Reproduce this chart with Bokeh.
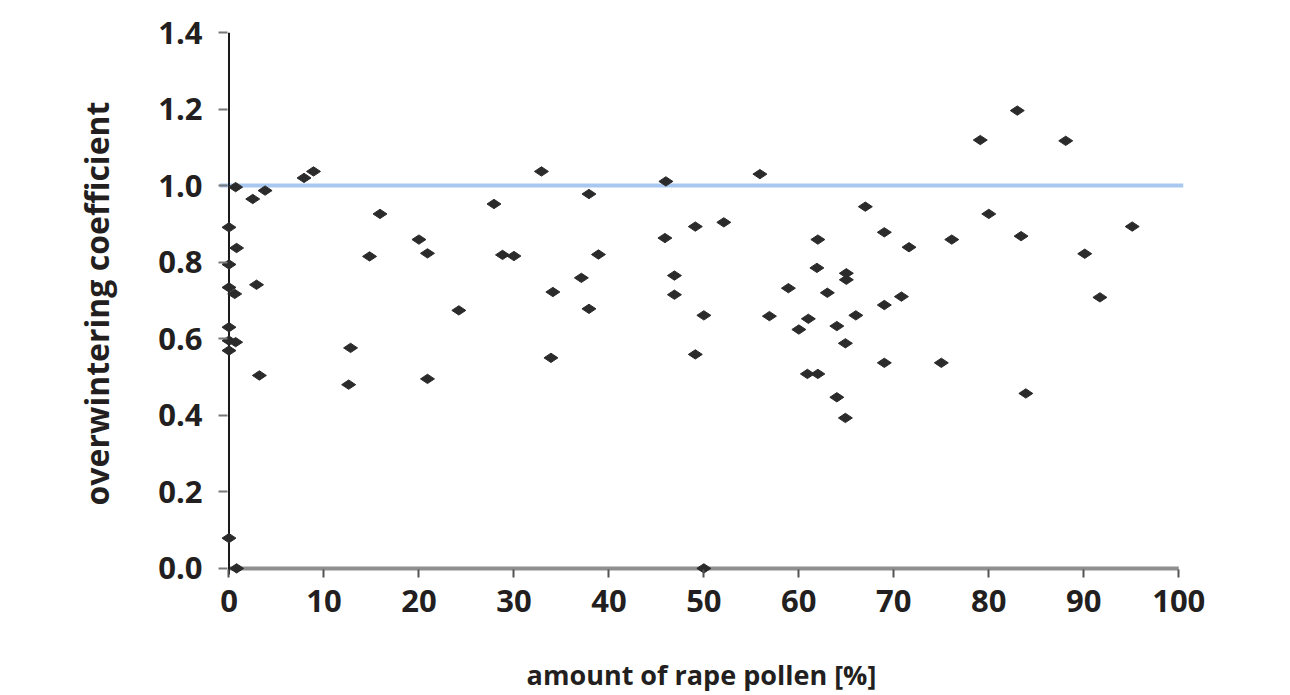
import math
from bokeh.plotting import figure
from bokeh.models import FixedTicker, Range1d, Span
from bokeh.embed import file_html
from bokeh.resources import INLINE

# data: amount of rape pollen [%] vs overwintering coefficient
pollen = [0.7, 2.5, 3.8, 7.9, 8.9, 0.0, 0.8, 0.0, 2.9, 0.0, 0.6, 0.0, 0.0, 0.7,
          0.0, 3.2, 0.0, 0.8, 15.9, 14.8, 20.0, 20.9, 12.8, 12.6, 20.9,
          32.9, 46.0, 27.9, 37.9, 49.1, 52.1, 45.9, 28.8, 30.0, 38.9, 37.1,
          46.9, 46.9, 34.1, 37.9, 24.2, 50.0, 33.9, 49.1,
          55.9, 67.0, 80.0, 69.0, 62.0, 76.1, 71.6, 61.9, 65.0, 65.0, 58.9,
          63.0, 70.8, 69.0, 56.9, 66.0, 61.0, 60.0, 64.0, 64.9, 69.0, 75.0,
          60.9, 62.0, 64.0, 64.9, 83.0, 79.1, 88.1, 83.4, 95.1, 90.1, 91.7,
          83.9, 50.0]
coeff = [0.996, 0.965, 0.987, 1.02, 1.037, 0.891, 0.837, 0.794, 0.741, 0.734, 0.717,
         0.63, 0.595, 0.591, 0.569, 0.504, 0.079, 0.0, 0.926, 0.815, 0.859, 0.823,
         0.576, 0.48, 0.495,
         1.037, 1.011, 0.952, 0.978, 0.893, 0.904, 0.863, 0.819, 0.816, 0.82, 0.759,
         0.765, 0.715, 0.722, 0.678, 0.674, 0.661, 0.55, 0.559,
         1.03, 0.945, 0.926, 0.878, 0.859, 0.859, 0.839, 0.785, 0.771, 0.754, 0.732,
         0.72, 0.71, 0.688, 0.659, 0.661, 0.652, 0.624, 0.633, 0.588, 0.537, 0.537,
         0.508, 0.508, 0.447, 0.393, 1.196, 1.119, 1.117, 0.868, 0.893, 0.822, 0.708,
         0.457, 0.0]

x_ticks = [0, 10, 20, 30, 40, 50, 60, 70, 80, 90, 100]
y_ticks = [0.0, 0.2, 0.4, 0.6, 0.8, 1.0, 1.2, 1.4]
y_tick_labels = {0.0: "0.0", 0.2: "0.2", 0.4: "0.4", 0.6: "0.6", 0.8: "0.8",
                 1.0: "1.0", 1.2: "1.2", 1.4: "1.4"}
reference_level = 1.0

TEXT = "#231f20"
FONT = "Open Sans"

p = figure(width=1282, height=695, output_backend="svg", toolbar_location=None,
           x_range=Range1d(-1, 100.5), y_range=Range1d(-0.016, 1.4),
           min_border_left=219, min_border_right=99, min_border_top=32,
           min_border_bottom=121)
p.outline_line_color = None
p.grid.visible = False
p.background_fill_color = "white"

# reference line at 1.0
p.add_layout(Span(location=reference_level, dimension="width", line_color="#a9c8ef",
                  line_width=4, level="underlay"))

# axis lines at data zero
p.segment(x0=[x_ticks[0]], y0=[0], x1=[x_ticks[-1]], y1=[0], line_color="#8f8f8f", line_width=4)
p.segment(x0=[0], y0=[-0.02], x1=[0], y1=[y_ticks[-1]], line_color="#1a1a1a", line_width=2)

p.scatter(pollen, coeff, marker="diamond", size=14, angle=math.pi / 2,
          fill_color="#2b2b2b", line_color="#2b2b2b", line_width=1)

xa = p.xaxis[0]
xa.ticker = FixedTicker(ticks=x_ticks)
xa.axis_line_color = None
xa.major_tick_line_color = "#555555"
xa.major_tick_line_width = 2
xa.major_tick_in = 5
xa.major_tick_out = 3
xa.minor_tick_line_color = None
xa.major_label_text_font = FONT
xa.major_label_text_font_style = "bold"
xa.major_label_text_font_size = "31px"
xa.major_label_text_color = TEXT
xa.major_label_standoff = 12
xa.axis_label = "amount of rape pollen [%]"
xa.axis_label_text_font = FONT
xa.axis_label_text_font_style = "bold"
xa.axis_label_text_font_size = "27px"
xa.axis_label_text_color = TEXT
xa.axis_label_standoff = 41

ya = p.yaxis[0]
ya.ticker = FixedTicker(ticks=y_ticks)
ya.major_label_overrides = y_tick_labels
ya.axis_line_color = None
ya.major_tick_line_color = "#777777"
ya.major_tick_line_width = 2
ya.major_tick_in = 8
ya.major_tick_out = 1
ya.minor_tick_line_color = None
ya.major_label_text_font = FONT
ya.major_label_text_font_style = "bold"
ya.major_label_text_font_size = "31px"
ya.major_label_text_color = TEXT
ya.major_label_standoff = 16
ya.axis_label = "overwintering coefficient"
ya.axis_label_text_font = FONT
ya.axis_label_text_font_style = "bold"
ya.axis_label_text_font_size = "32px"
ya.axis_label_text_color = TEXT
ya.axis_label_standoff = 37

open("out.html", "w").write(file_html(p, INLINE))
